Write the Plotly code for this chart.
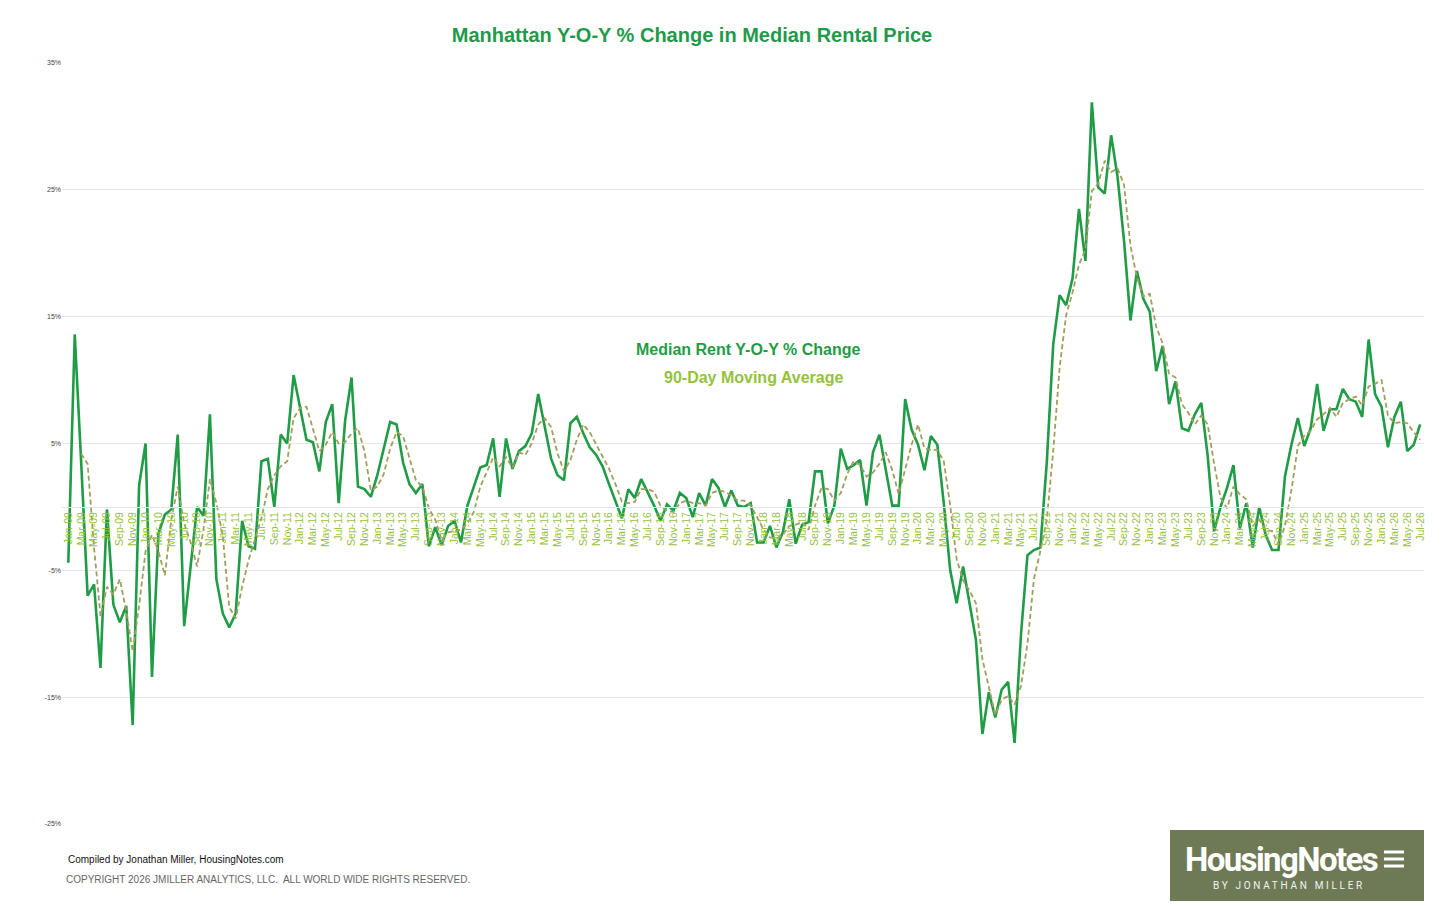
import plotly.graph_objects as go

# Monthly categories, Jan-09 .. Jul-26
month_abbr = ['Jan', 'Feb', 'Mar', 'Apr', 'May', 'Jun', 'Jul', 'Aug', 'Sep', 'Oct', 'Nov', 'Dec']
months = [f'{m}-{y:02d}' for y in range(9, 27) for m in month_abbr][:211]

# Median rent Y-O-Y % change
yoy_change = [
    -4.4, 13.6, 3.5, -7.0, -6.1, -12.7, -0.2, -7.7, -9.1, -7.8, -17.2, 1.7,      # 2009
    5.0, -13.4, -2.1, -0.6, -0.2, 5.7, -9.4, -4.7, 0.0, -0.7, 7.3, -5.7,         # 2010
    -8.4, -9.5, -8.4, -1.1, -3.1, -3.3, 3.6, 3.8, 0.0, 5.7, 5.0, 10.4,           # 2011
    7.9, 5.3, 5.1, 2.8, 6.7, 8.1, 0.3, 6.8, 10.2, 1.6, 1.4, 0.8,                 # 2012
    2.5, 4.6, 6.7, 6.5, 3.5, 1.8, 1.1, 1.8, -3.1, -1.6, -3.0, -1.5,              # 2013
    -1.1, -2.8, 0.1, 1.6, 3.1, 3.3, 5.4, 0.8, 5.4, 3.0, 4.4, 4.8,                # 2014
    5.8, 8.9, 6.3, 3.8, 2.5, 2.1, 6.6, 7.1, 5.8, 4.7, 4.1, 3.2,                  # 2015
    1.8, 0.4, -0.9, 1.4, 0.7, 2.2, 1.2, 0.1, -1.1, 0.2, -0.3, 1.1,               # 2016
    0.7, -0.8, 1.1, 0.1, 2.2, 1.5, 0.0, 1.3, 0.1, 0.0, 0.3, -2.8,                # 2017
    -2.8, -1.5, -3.2, -2.0, 0.6, -2.9, -1.4, -1.2, 2.8, 2.8, -1.3, 0.1,          # 2018
    4.6, 3.0, 3.3, 3.7, 0.1, 4.3, 5.7, 2.8, 0.1, 0.1, 8.5, 6.1,                  # 2019
    4.9, 2.9, 5.6, 4.9, 0.3, -5.0, -7.6, -4.7, -7.5, -10.5, -17.9, -14.6,        # 2020
    -16.6, -14.4, -13.8, -18.6, -10.0, -3.8, -3.4, -3.2, 3.5, 12.8, 16.7, 15.9,  # 2021
    18.0, 23.5, 19.4, 31.9, 25.2, 24.7, 29.3, 26.0, 21.0, 14.7, 18.6, 16.4,      # 2022
    15.4, 10.7, 12.7, 8.1, 9.9, 6.2, 6.0, 7.3, 8.2, 4.0, -1.9, 0.0,              # 2023
    1.5, 3.3, -1.7, 0.3, -3.2, 0.0, -2.2, -3.4, -3.4, 2.4, 4.9, 7.0,             # 2024
    4.8, 6.2, 9.7, 6.0, 7.7, 7.7, 9.3, 8.5, 8.3, 7.1, 13.2, 8.9,                 # 2025
    7.9, 4.7, 7.1, 8.3, 4.4, 4.9, 6.5,                                          # 2026
]

# 90-day moving average (dashed line)
moving_avg = [
    None, None, 4.2, 3.4, -3.2, -8.6, -6.3, -6.9, -5.7, -8.2, -11.4, -7.8,
    -3.5, -2.2, -3.5, -5.4, -1.0, 1.6, -1.3, -2.8, -4.7, -1.8, 2.2, 0.3,
    -2.3, -7.9, -8.8, -6.3, -4.2, -2.5, -0.9, 1.4, 2.5, 3.2, 3.6, 7.0,
    7.8, 7.9, 6.1, 4.4, 4.9, 5.9, 5.0, 5.1, 5.8, 6.2, 4.4, 1.3,
    1.6, 2.6, 4.6, 5.9, 5.6, 3.9, 2.1, 1.6, -0.1, -1.0, -2.6, -2.0,
    -1.9, -1.8, -1.3, -0.4, 1.6, 2.7, 3.9, 3.2, 3.9, 3.1, 4.3, 4.1,
    5.0, 6.5, 7.0, 6.3, 4.2, 2.8, 3.7, 5.3, 6.5, 5.9, 4.9, 4.0,
    3.0, 1.8, 0.4, 0.3, 0.4, 1.4, 1.4, 1.2, 0.1, -0.3, -0.4, 0.3,
    0.5, 0.3, 0.3, 0.1, 1.1, 1.3, 1.2, 0.9, 0.5, 0.5, 0.1, -0.8,
    -1.8, -2.4, -2.5, -2.2, -1.5, -1.4, -1.2, -1.8, 0.1, 1.5, 1.4, 0.5,
    1.1, 2.6, 3.6, 3.3, 2.4, 2.7, 3.4, 4.3, 2.9, 1.0, 2.9, 4.9,
    6.5, 4.6, 4.5, 4.5, 3.6, 0.1, -4.1, -5.8, -6.6, -7.6, -12.0, -14.3,
    -16.4, -15.2, -14.9, -15.6, -14.1, -10.8, -5.7, -3.5, -1.0, 4.4, 11.0, 15.1,
    16.9, 19.1, 20.3, 24.9, 25.5, 27.3, 26.4, 26.7, 25.4, 20.6, 18.1, 16.6,
    16.8, 14.2, 12.9, 10.5, 10.2, 8.1, 7.4, 6.5, 7.2, 6.5, 3.4, 0.7,
    -0.1, 1.6, 1.0, 0.6, -1.5, -1.0, -1.8, -1.9, -3.0, -1.5, 1.3, 4.8,
    5.6, 6.0, 6.9, 7.3, 7.8, 7.1, 8.2, 8.5, 8.7, 8.0, 9.5, 9.7,
    10.0, 7.2, 6.6, 6.7, 6.6, 5.9, 5.3,
]

y_ticks = [-25, -15, -5, 5, 15, 25, 35]
y_tick_labels = [f'{v}%' for v in y_ticks]

FONT = 'Liberation Sans, Arial, sans-serif'
DARK_GREEN = '#1f9c45'
LIGHT_GREEN = '#95c23d'

fig = go.Figure()
fig.add_trace(go.Scatter(x=months, y=yoy_change, mode='lines', name='Median Rent Y-O-Y % Change',
                         line=dict(color=DARK_GREEN, width=2.6)))
fig.add_trace(go.Scatter(x=months, y=moving_avg, mode='lines', name='90-Day Moving Average',
                         line=dict(color='#a29e5c', width=1.8, dash='5px,3px')))

fig.update_layout(
    width=1456, height=906,
    paper_bgcolor='white', plot_bgcolor='white',
    margin=dict(l=62, r=32, t=63, b=82, pad=0),
    showlegend=False,
    font=dict(family=FONT),
    title=dict(text='<b>Manhattan Y-O-Y % Change in Median Rental Price</b>',
               font=dict(size=20, color='#1f9a4b', family=FONT),
               x=692 / 1456, xanchor='center', y=1 - 35 / 906, yanchor='middle'),
    xaxis=dict(type='category', range=[-0.98, 210.6], anchor='free', position=25 / 60,
               tickmode='array', tickvals=months[::2], tickangle=-90, ticks='',
               tickfont=dict(size=10.5, color=LIGHT_GREEN, family=FONT),
               showgrid=False, zeroline=False, showline=True, linecolor='#e2e2e2', linewidth=1),
    yaxis=dict(range=[-25, 35], tickmode='array', tickvals=y_ticks, ticktext=y_tick_labels,
               ticks='', tickfont=dict(size=7, color='#444444', family=FONT),
               showgrid=True, gridcolor='#e6e6e6', gridwidth=1, zeroline=False, showline=False),
)

# legend-style labels in the middle of the plot
fig.add_annotation(x=0.5037, y=0.623, xref='paper', yref='paper', showarrow=False,
                   xanchor='center', yanchor='middle',
                   text='<b>Median Rent Y-O-Y % Change</b>',
                   font=dict(size=16, color=DARK_GREEN, family=FONT))
fig.add_annotation(x=0.508, y=0.587, xref='paper', yref='paper', showarrow=False,
                   xanchor='center', yanchor='middle',
                   text='<b>90-Day Moving Average</b>',
                   font=dict(size=16, color=LIGHT_GREEN, family=FONT))

# footer credits
fig.add_annotation(x=0.003, y=-0.0473, xref='paper', yref='paper', showarrow=False,
                   xanchor='left', yanchor='middle',
                   text='Compiled by Jonathan Miller, HousingNotes.com',
                   font=dict(size=10, color='#111111', family=FONT))
fig.add_annotation(x=0.0015, y=-0.0723, xref='paper', yref='paper', showarrow=False,
                   xanchor='left', yanchor='middle',
                   text='COPYRIGHT 2026 JMILLER ANALYTICS, LLC.  ALL WORLD WIDE RIGHTS RESERVED.',
                   font=dict(size=10, color='#666666', family=FONT))

# HousingNotes logo box
fig.add_shape(type='rect', xref='paper', yref='paper', x0=0.8135, x1=1.0, y0=-0.1012, y1=-0.0079,
              fillcolor='#6e7a56', line=dict(width=0), layer='above')
for yb in [-0.0368, -0.046, -0.0552]:
    fig.add_shape(type='line', xref='paper', yref='paper', x0=0.9706, x1=0.9853, y0=yb, y1=yb,
                  line=dict(color='white', width=3), layer='above')
fig.add_annotation(x=(1183 - 62) / 1362, y=(824 - 859) / 761, xref='paper', yref='paper',
                   showarrow=False, xanchor='left', yanchor='middle', align='left',
                   text='<b><span style="letter-spacing:-1.6px">HousingNotes</span></b>',
                   font=dict(size=33, color='white', family='Roboto, Lato, sans-serif'))
fig.add_annotation(x=(1211 - 62) / 1362, y=(824 - 886) / 761, xref='paper', yref='paper',
                   showarrow=False, xanchor='left', yanchor='middle', align='left',
                   text='<span style="letter-spacing:2.7px">BY JONATHAN MILLER</span>',
                   font=dict(size=10, color='#f2f2f2', family='Roboto, sans-serif'))

fig.write_html('out.html', config={'displayModeBar': False},
               post_script="document.body.style.margin='0';")
